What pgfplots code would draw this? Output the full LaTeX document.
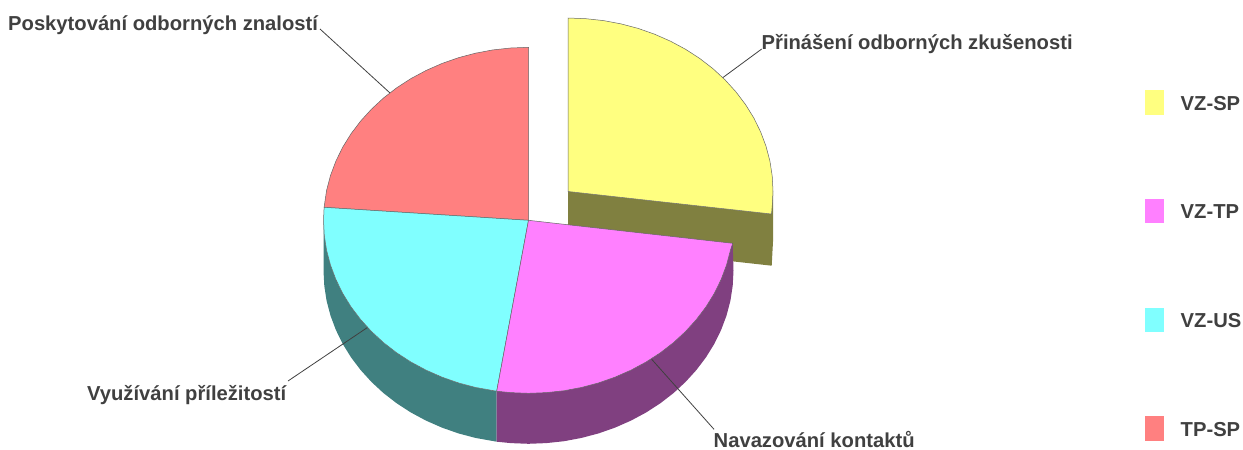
\documentclass[border=0pt]{standalone}
\usepackage{pgfplots}
\pgfplotsset{compat=1.18}
\usepackage{fontspec}
\setmainfont{Liberation Sans}
\definecolor{yel}{HTML}{FFFF80}
\definecolor{pnk}{HTML}{FF80FF}
\definecolor{cyn}{HTML}{80FFFF}
\definecolor{red1}{HTML}{FF8080}
\definecolor{yels}{HTML}{808040}
\definecolor{pnks}{HTML}{804080}
\definecolor{cyns}{HTML}{408080}
\definecolor{txt}{HTML}{404040}
\tikzset{lab/.style={font=\fontsize{20.2}{22}\selectfont\bfseries,text=txt,inner sep=0pt}}
\begin{document}
\begin{tikzpicture}
\begin{axis}[scale only axis,width=1243pt,height=450pt,xmin=0,xmax=1243,ymin=0,ymax=450,y dir=reverse,hide axis,clip=false]
\path (axis cs:0,0) rectangle (axis cs:1243,450);
% side faces
\addplot[fill=yels,draw=none] coordinates {(568,191.5)(771.5,214)(773,191)(773,241.5)(771.7,265.7)(568,243)} --cycle;
\addplot[fill=cyns,draw=none] coordinates {(323.5,220.3)(324.3,235.4)(326.6,250.3)(330.5,265.1)(335.9,279.5)(342.7,293.4)(351,306.8)(360.6,319.5)(371.5,331.5)(383.5,342.6)(396.7,352.8)(410.9,362)(426,370.1)(441.9,377.1)(458.4,382.9)(475.4,387.4)(496.7,391.2)(496.7,441.7)(475.4,437.9)(458.4,433.4)(441.9,427.6)(426,420.6)(410.9,412.5)(396.7,403.3)(383.5,393.1)(371.5,382)(360.6,370)(351,357.3)(342.7,343.9)(335.9,330)(330.5,315.6)(326.6,300.8)(324.3,285.9)(323.5,270.8)} --cycle;
\addplot[fill=pnks,draw=none] coordinates {(732.7,243.3)(733.5,270.8)(732.7,285.9)(730.4,300.8)(726.5,315.6)(721.1,330)(714.3,343.9)(706,357.3)(696.4,370)(685.5,382)(673.5,393.1)(660.3,403.3)(646.1,412.5)(631,420.6)(615.1,427.6)(598.6,433.4)(581.6,437.9)(564.1,441.2)(546.4,443.1)(528.5,443.8)(510.6,443.1)(496.7,441.7)(496.7,391.2)(564.1,390.7)(631,370.1)(685.5,331.5)} --cycle;
% leader lines
\addplot[draw=txt,line width=0.8pt] coordinates {(320,29)(390,93)};
\addplot[draw=txt,line width=0.8pt] coordinates {(761.7,49)(722.7,77.7)};
\addplot[draw=txt,line width=0.8pt] coordinates {(651.7,359.3)(714,429.3)};
\addplot[draw=txt,line width=0.8pt] coordinates {(367.7,327.3)(288,381)};
% top faces
\addplot[fill=yel,draw=black!60,line width=0.5pt] coordinates {(568,191.5)(568,18)(585.9,18.7)(603.6,20.6)(621.1,23.9)(638.1,28.4)(654.6,34.2)(670.5,41.2)(685.6,49.3)(699.8,58.5)(713,68.7)(725,79.8)(735.9,91.8)(745.5,104.5)(753.8,117.9)(760.6,131.8)(766,146.2)(769.9,161)(772.2,175.9)(773,191)(772.2,206.1)(771.5,214)} --cycle;
\addplot[fill=red1,draw=black!60,line width=0.5pt] coordinates {(528.5,220.3)(324.1,207.3)(326.6,190.3)(330.5,175.5)(335.9,161.1)(342.7,147.2)(351,133.8)(360.6,121.1)(371.5,109.1)(383.5,98)(396.7,87.8)(410.9,78.6)(426,70.5)(441.9,63.5)(458.4,57.7)(475.4,53.2)(492.9,49.9)(510.6,48)(528.5,47.3)} --cycle;
\addplot[fill=cyn,draw=black!60,line width=0.5pt] coordinates {(528.5,220.3)(496.7,391.2)(475.4,387.4)(458.4,382.9)(441.9,377.1)(426,370.1)(410.9,362)(396.7,352.8)(383.5,342.6)(371.5,331.5)(360.6,319.5)(351,306.8)(342.7,293.4)(335.9,279.5)(330.5,265.1)(326.6,250.3)(324.3,235.4)(323.5,220.3)(324.1,207.3)} --cycle;
\addplot[fill=pnk,draw=black!60,line width=0.5pt] coordinates {(528.5,220.3)(732.7,243.3)(730.4,250.3)(726.5,265.1)(721.1,279.5)(714.3,293.4)(706,306.8)(696.4,319.5)(685.5,331.5)(673.5,342.6)(660.3,352.8)(646.1,362)(631,370.1)(615.1,377.1)(598.6,382.9)(581.6,387.4)(564.1,390.7)(546.4,392.6)(528.5,393.3)(510.6,392.6)(496.7,391.2)} --cycle;
% legend
\addplot[fill=yel,draw=none] coordinates {(1145.3,90)(1164,90)(1164,115)(1145.3,115)} --cycle;
\addplot[fill=pnk,draw=none] coordinates {(1145.3,199)(1164,199)(1164,223.3)(1145.3,223.3)} --cycle;
\addplot[fill=cyn,draw=none] coordinates {(1145.3,307.7)(1164,307.7)(1164,331.7)(1145.3,331.7)} --cycle;
\addplot[fill=red1,draw=none] coordinates {(1145.3,416.3)(1164,416.3)(1164,440.7)(1145.3,440.7)} --cycle;
\node[lab,anchor=base west] at (axis cs:1180.5,110) {VZ-SP};
\node[lab,anchor=base west] at (axis cs:1180.5,218) {VZ-TP};
\node[lab,anchor=base west] at (axis cs:1180.5,327) {VZ-US};
\node[lab,anchor=base west] at (axis cs:1180.5,436) {TP-SP};
\node[lab,anchor=base west] at (axis cs:8,30) {Poskytování odborných znalostí};
\begin{scope}
\clip (axis cs:750,20) rectangle (axis cs:1071.5,70);
\node[lab,anchor=base west] at (axis cs:761.5,49) {Přinášení odborných zkušenosti};
\end{scope}
\node[lab,anchor=base west] at (axis cs:87,400) {Využívání příležitostí};
\node[lab,anchor=base west] at (axis cs:713.5,447) {Navazování kontaktů};
\end{axis}
\end{tikzpicture}
\end{document}
